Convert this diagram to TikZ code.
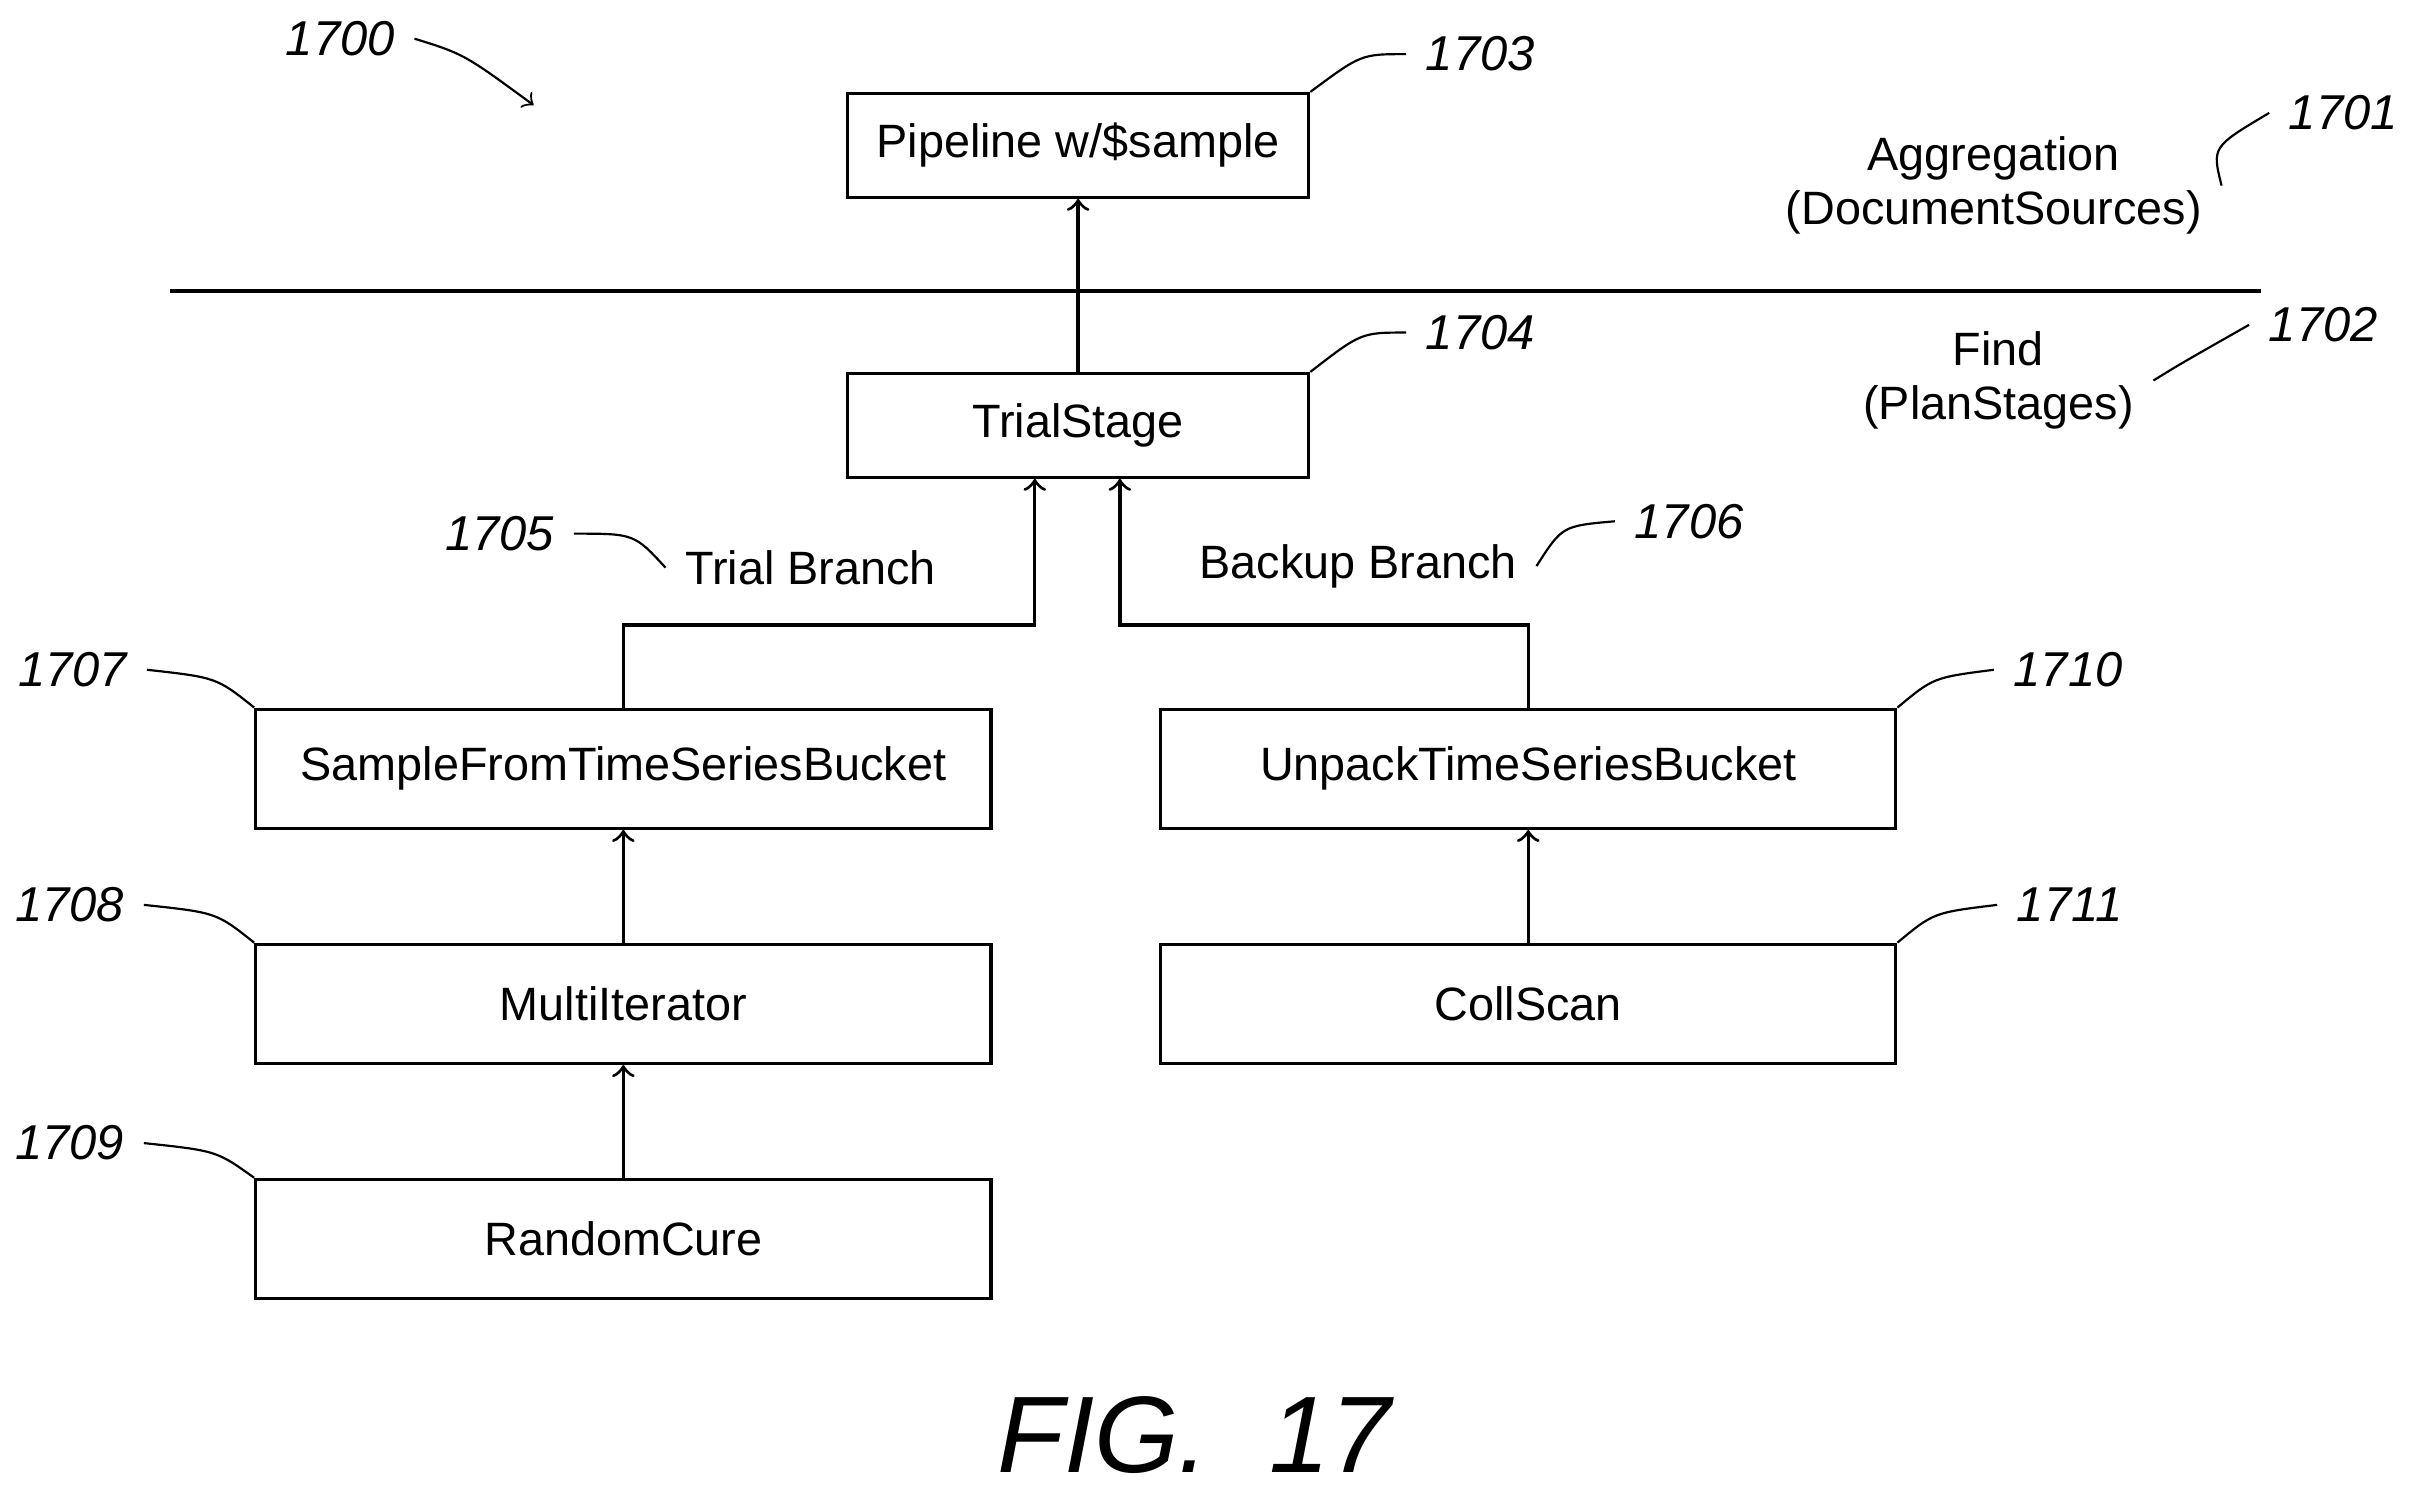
\documentclass[tikz,border=0pt]{standalone}
\usepackage{fontspec}
\setmainfont{Liberation Sans}
\usetikzlibrary{positioning, arrows}

\begin{document}
\begin{tikzpicture}[x=0.01cm, y=-0.01cm, >=to, semithick,
        stage/.style={draw, minimum width=4.75cm, minimum height=0.77cm,
            font=\fontsize{8.6}{10}\selectfont},
        small/.style={stage, minimum width=2.98cm, minimum height=0.67cm},
        ref/.style={font=\fontsize{9}{10}\selectfont\itshape},
        lbl/.style={font=\fontsize{8.6}{10}\selectfont, align=center},
        lead/.style={thin}]
    \useasboundingbox (0,0) rectangle (1560,970);

    \node[small]    (pipe)   at (697,94)  {Pipeline w/\$sample};
    \node[small]    (trial)  at (697,275) {TrialStage};
    \node[stage]    (sample) at (403,497) {SampleFromTimeSeriesBucket};
    \node[stage]    (multi)  at (403,649) {MultiIterator};
    \node[stage]    (random) at (403,801) {RandomCure};
    \node[stage]    (unpack) at (988,497) {UnpackTimeSeriesBucket};
    \node[stage]    (coll)   at (988,649) {CollScan};

    \coordinate (lineL) at (110,188);
    \coordinate (lineR) at (1462,188);
    \draw[thick] (lineL) -- (lineR);

    % stage arrows
    \draw[->] (trial) -- (pipe);
    \draw[->] (sample.north) |- (669,404) -- (trial.south -| 669,0);
    \draw[->] (unpack.north) |- (724,404) -- (trial.south -| 724,0);
    \draw[->] (multi) -- (sample);
    \draw[->] (random) -- (multi);
    \draw[->] (coll) -- (unpack);

    % text labels
    \node[lbl] (agg)  at (1289,120) {Aggregation\\(DocumentSources)};
    \node[lbl] (find) at (1292,246) {Find\\(PlanStages)};
    \node[lbl] (tb)   at (524,367)  {Trial Branch};
    \node[lbl] (bb)   at (878,366)  {Backup Branch};

    % reference numerals
    \node[ref] (r1700) at (220,25)  {1700};
    \node[ref] (r1701) at (1515,73) {1701};
    \node[ref] (r1702) at (1502,210) {1702};
    \node[ref] (r1703) at (957,35)  {1703};
    \node[ref] (r1704) at (957,215) {1704};
    \node[ref] (r1705) at (323,345) {1705};
    \node[ref] (r1706) at (1092,337) {1706};
    \node[ref] (r1707) at (47,433)  {1707};
    \node[ref] (r1708) at (45,585)  {1708};
    \node[ref] (r1709) at (45,739)  {1709};
    \node[ref] (r1710) at (1337,433) {1710};
    \node[ref] (r1711) at (1338,585) {1711};

    \coordinate (tip1700) at (345,68);
    \draw[lead, ->] (r1700.east) .. controls (300,35) .. (tip1700);
    \draw[lead] (r1701.west) .. controls (1430,95) .. (agg.east);
    \draw[lead] (r1702.west) .. controls (1410,235) .. (find.east);
    \draw[lead] (r1703.west) .. controls (880,35) .. (pipe.north east);
    \draw[lead] (r1704.west) .. controls (880,215) .. (trial.north east);
    \draw[lead] (r1705.east) .. controls (410,345) .. (tb.west);
    \draw[lead] (r1706.west) .. controls (1010,340) .. (bb.east);
    \draw[lead] (r1707.east) .. controls (140,438) .. (sample.north west);
    \draw[lead] (r1708.east) .. controls (140,590) .. (multi.north west);
    \draw[lead] (r1709.east) .. controls (140,744) .. (random.north west);
    \draw[lead] (r1710.west) .. controls (1250,438) .. (unpack.north east);
    \draw[lead] (r1711.west) .. controls (1250,590) .. (coll.north east);

    \node[font=\fontsize{20}{22}\selectfont\itshape] (fig) at (772,928) {FIG.~~17};
\end{tikzpicture}
\end{document}
